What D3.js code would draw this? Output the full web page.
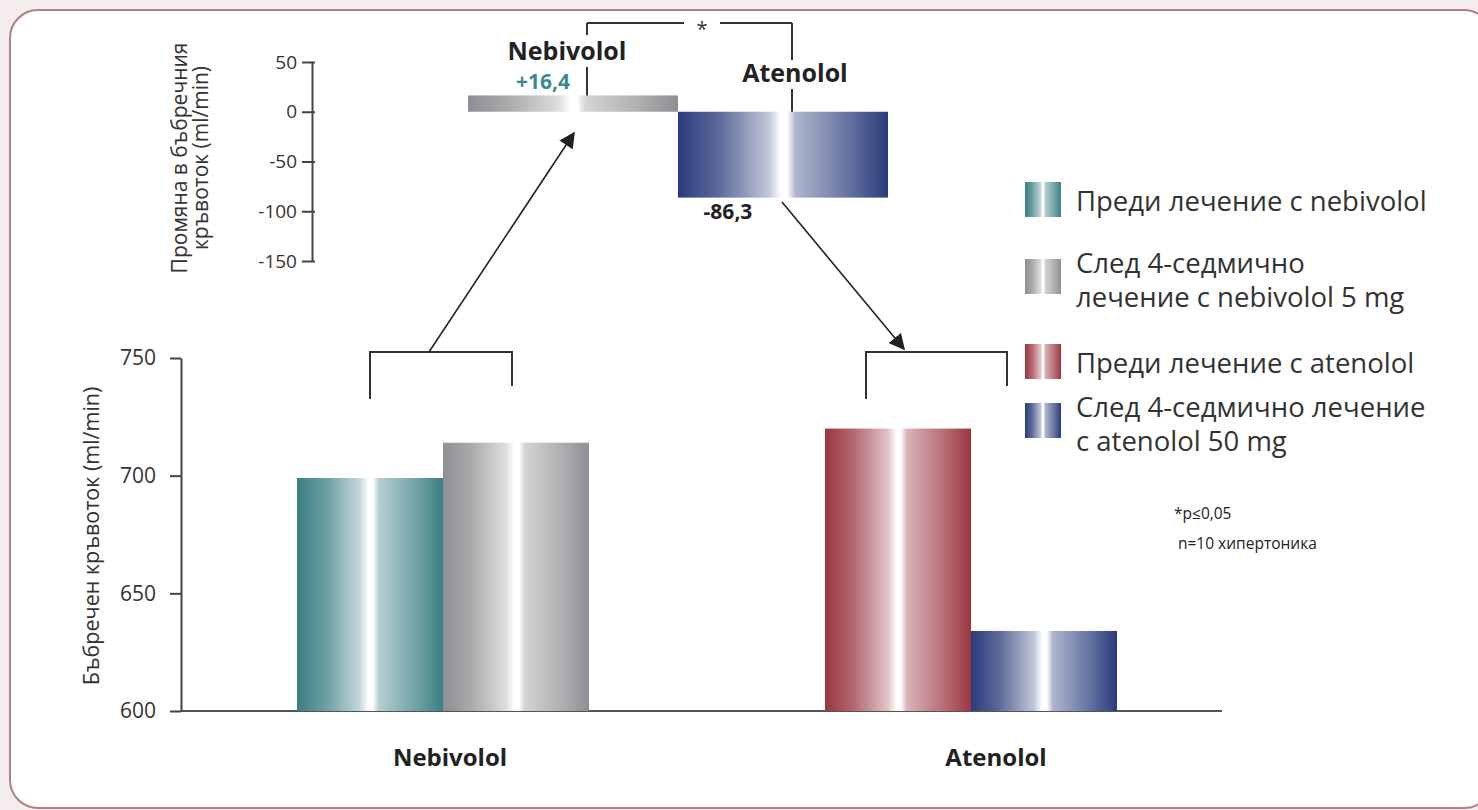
<!DOCTYPE html>
<html>
<head>
<meta charset="utf-8">
<script src="https://cdn.jsdelivr.net/npm/d3@7"></script>
<style>
  html, body { margin: 0; padding: 0; background: #f5eded; }
  svg { display: block; }
  text { font-family: "Open Sans", "Noto Sans", sans-serif; }
</style>
</head>
<body>
<div id="chart"></div>
<script>
// data
let groups = ["Nebivolol", "Atenolol"]
let beforeVals = [699, 720]
let afterVals = [714, 634]
let changeVals = [16.4, -86.3]
let changeLabels = ["+16,4", "-86,3"]
let mainTicks = [600, 650, 700, 750]
let changeTicks = [50, 0, -50, -100, -150]
let legendLabels = [
  ["Преди лечение с nebivolol"],
  ["След 4-седмично", "лечение с nebivolol 5 mg"],
  ["Преди лечение с atenolol"],
  ["След 4-седмично лечение", "с atenolol 50 mg"]
]
let barColors = ["#3b7e83", "#8d8f92", "#9b3641", "#293b7b"]

let width = 1478
let height = 810

let svg = d3.select("#chart").append("svg")
  .attr("width", width)
  .attr("height", height)
  .attr("fill", "#333")

// frame
svg.append("rect")
  .attr("x", 10).attr("y", 10)
  .attr("width", 1482).attr("height", 798)
  .attr("rx", 28).attr("ry", 28)
  .attr("fill", "#fff")
  .attr("stroke", "#b27d84")
  .attr("stroke-width", 2)

// metallic gradients
let defs = svg.append("defs")
barColors.forEach(function (c, i) {
  let g = defs.append("linearGradient").attr("id", "grad" + i)
    .attr("x1", "0%").attr("x2", "100%").attr("y1", "0%").attr("y2", "0%")
  let light = d3.interpolateRgb(c, "#fff")
  let stops = [[0, c], [0.2, light(0.25)], [0.43, light(0.7)], [0.49, "#fff"], [0.52, "#fff"],
               [0.56, light(0.62)], [0.8, light(0.3)], [1, c]]
  stops.forEach(function (s) {
    g.append("stop").attr("offset", s[0]).attr("stop-color", s[1])
  })
})

// ---------- main chart ----------
let y = d3.scaleLinear().domain([600, 750]).range([711, 358])
let x0 = d3.scaleBand().domain(groups).range([61, 1353]).paddingInner(0.447).paddingOuter(0.447)
let x1 = d3.scaleBand().domain([0, 1]).range([0, x0.bandwidth()])

let main = svg.append("g")

main.append("line")
  .attr("x1", 181).attr("x2", 1222)
  .attr("y1", y(600)).attr("y2", y(600))
  .attr("stroke", "#555").attr("stroke-width", 2)

let barData = []
groups.forEach(function (g, i) {
  barData.push({group: g, sub: 0, value: beforeVals[i], color: i * 2})
  barData.push({group: g, sub: 1, value: afterVals[i], color: i * 2 + 1})
})

main.selectAll(".bar")
  .data(barData)
  .enter().append("rect")
  .attr("class", "bar")
  .attr("x", d => x0(d.group) + x1(d.sub))
  .attr("y", d => y(d.value))
  .attr("width", x1.bandwidth())
  .attr("height", d => y(600) - y(d.value))
  .attr("fill", d => "url(#grad" + d.color + ")")

let yAxis = main.append("g")
  .attr("transform", "translate(181,0)")
  .call(d3.axisLeft(y).tickValues(mainTicks).tickFormat(d => String(d))
    .tickSize(11).tickSizeOuter(0).tickPadding(14))
yAxis.select(".domain").attr("stroke", "#444").attr("stroke-width", 2)
yAxis.selectAll(".tick line").attr("stroke", "#444").attr("stroke-width", 2)
yAxis.selectAll(".tick text").attr("font-size", 21).attr("fill", "#333")
  .style("font-family", "'Open Sans', sans-serif")

main.append("text")
  .attr("transform", "translate(99,536) rotate(-90)")
  .attr("text-anchor", "middle")
  .attr("font-size", 21.5)
  .text("Бъбречен кръвоток (ml/min)")

let catOffsets = [7, 25]
main.selectAll(".cat")
  .data(groups)
  .enter().append("text")
  .attr("class", "cat")
  .attr("x", (d, i) => x0(d) + x0.bandwidth() / 2 + catOffsets[i])
  .attr("y", 766)
  .attr("text-anchor", "middle")
  .attr("font-size", 24)
  .attr("font-weight", 700)
  .attr("fill", "#222")
  .text(d => d)

// brackets over groups
let bracketOffsets = [[-73, 69], [-105, 36]]
groups.forEach(function (g, i) {
  let cx = x0(g) + x0.bandwidth() / 2
  let l = cx + bracketOffsets[i][0]
  let r = cx + bracketOffsets[i][1]
  main.append("path")
    .attr("d", "M" + l + ",399V352H" + r + "V386")
    .attr("fill", "none").attr("stroke", "#333").attr("stroke-width", 2)
})

// ---------- change chart ----------
let yc = d3.scaleLinear().domain([-150, 50]).range([261, 62])
let xc = d3.scaleBand().domain(groups).range([468, 888])

let topG = svg.append("g")

topG.selectAll(".cbar")
  .data(changeVals)
  .enter().append("rect")
  .attr("class", "cbar")
  .attr("x", (d, i) => xc(groups[i]))
  .attr("y", d => yc(Math.max(0, d)))
  .attr("width", xc.bandwidth())
  .attr("height", d => Math.abs(yc(d) - yc(0)))
  .attr("fill", (d, i) => "url(#grad" + (i * 2 + 1) + ")")

let cAxis = topG.append("g")
  .attr("transform", "translate(312,0)")
  .call(d3.axisLeft(yc).tickValues(changeTicks).tickFormat(d => String(d))
    .tickSize(10).tickSizeOuter(0).tickPadding(5))
cAxis.select(".domain").attr("stroke", "#444").attr("stroke-width", 2)
cAxis.selectAll(".tick line").attr("stroke", "#444").attr("stroke-width", 2).attr("x2", 3).attr("x1", -10)
cAxis.selectAll(".tick text").attr("font-size", 19).attr("fill", "#333")
  .style("font-family", "'Open Sans', sans-serif")

topG.append("text")
  .attr("transform", "translate(187,158) rotate(-90)")
  .attr("text-anchor", "middle")
  .attr("font-size", 21)
  .text("Промяна в бъбречния")
topG.append("text")
  .attr("transform", "translate(208,158) rotate(-90)")
  .attr("text-anchor", "middle")
  .attr("font-size", 21)
  .text("кръвоток (ml/min)")

// significance bracket
let lx = xc("Nebivolol") + xc.bandwidth() / 2 + 14
let rx = xc("Atenolol") + xc.bandwidth() / 2 + 9
let line = (xa, ya, xb, yb) => topG.append("line")
  .attr("x1", xa).attr("y1", ya).attr("x2", xb).attr("y2", yb)
  .attr("stroke", "#333").attr("stroke-width", 2)
line(lx, 23, lx, 35)
line(lx, 67, lx, yc(changeVals[0]))
line(lx, 23, 684, 23)
line(720, 23, rx, 23)
line(rx, 23, rx, 60)
line(rx, 89, rx, yc(0))
topG.append("text").attr("x", 702).attr("y", 36).attr("text-anchor", "middle")
  .attr("font-size", 20).attr("fill", "#333").text("*")

topG.append("text").attr("x", 567).attr("y", 60).attr("text-anchor", "middle")
  .attr("font-size", 25).attr("font-weight", 700).attr("fill", "#222").text("Nebivolol")
topG.append("text").attr("x", 795).attr("y", 82).attr("text-anchor", "middle")
  .attr("font-size", 25).attr("font-weight", 700).attr("fill", "#222").text("Atenolol")

topG.append("text").attr("x", 543).attr("y", 89).attr("text-anchor", "middle")
  .attr("font-size", 21).attr("font-weight", 700).attr("fill", "#3b8b8d").text(changeLabels[0])
topG.append("text").attr("x", 728).attr("y", 219).attr("text-anchor", "middle")
  .attr("font-size", 21).attr("font-weight", 700).attr("fill", "#222").text(changeLabels[1])

// arrows
defs.append("marker").attr("id", "arrow")
  .attr("viewBox", "0 0 10 10").attr("refX", 9).attr("refY", 5)
  .attr("markerWidth", 16).attr("markerHeight", 16).attr("markerUnits", "userSpaceOnUse")
  .attr("orient", "auto")
  .append("path").attr("d", "M0,0L10,5L0,10Z").attr("fill", "#222")

svg.append("line").attr("x1", 429).attr("y1", 352).attr("x2", 574).attr("y2", 133)
  .attr("stroke", "#222").attr("stroke-width", 1.6).attr("marker-end", "url(#arrow)")
svg.append("line").attr("x1", 782).attr("y1", 202).attr("x2", 904).attr("y2", 349)
  .attr("stroke", "#222").attr("stroke-width", 1.6).attr("marker-end", "url(#arrow)")

// ---------- legend ----------
let legendY = [182, 259, 344, 403]
let legend = svg.append("g")
legendLabels.forEach(function (lines, i) {
  legend.append("rect")
    .attr("x", 1025).attr("y", legendY[i])
    .attr("width", 36).attr("height", 35)
    .attr("fill", "url(#grad" + i + ")")
  lines.forEach(function (t, j) {
    legend.append("text")
      .attr("x", 1076).attr("y", legendY[i] + 29 + j * 34 - (lines.length > 1 ? 15 : 0))
      .attr("font-size", 27.5)
      .attr("fill", "#333")
      .text(t)
  })
})

svg.append("text").attr("x", 1174).attr("y", 519).attr("font-size", 15.5).attr("fill", "#222").text("*p≤0,05")
svg.append("text").attr("x", 1178).attr("y", 549).attr("font-size", 15.5).attr("fill", "#222").text("n=10 хипертоника")
</script>
</body>
</html>
